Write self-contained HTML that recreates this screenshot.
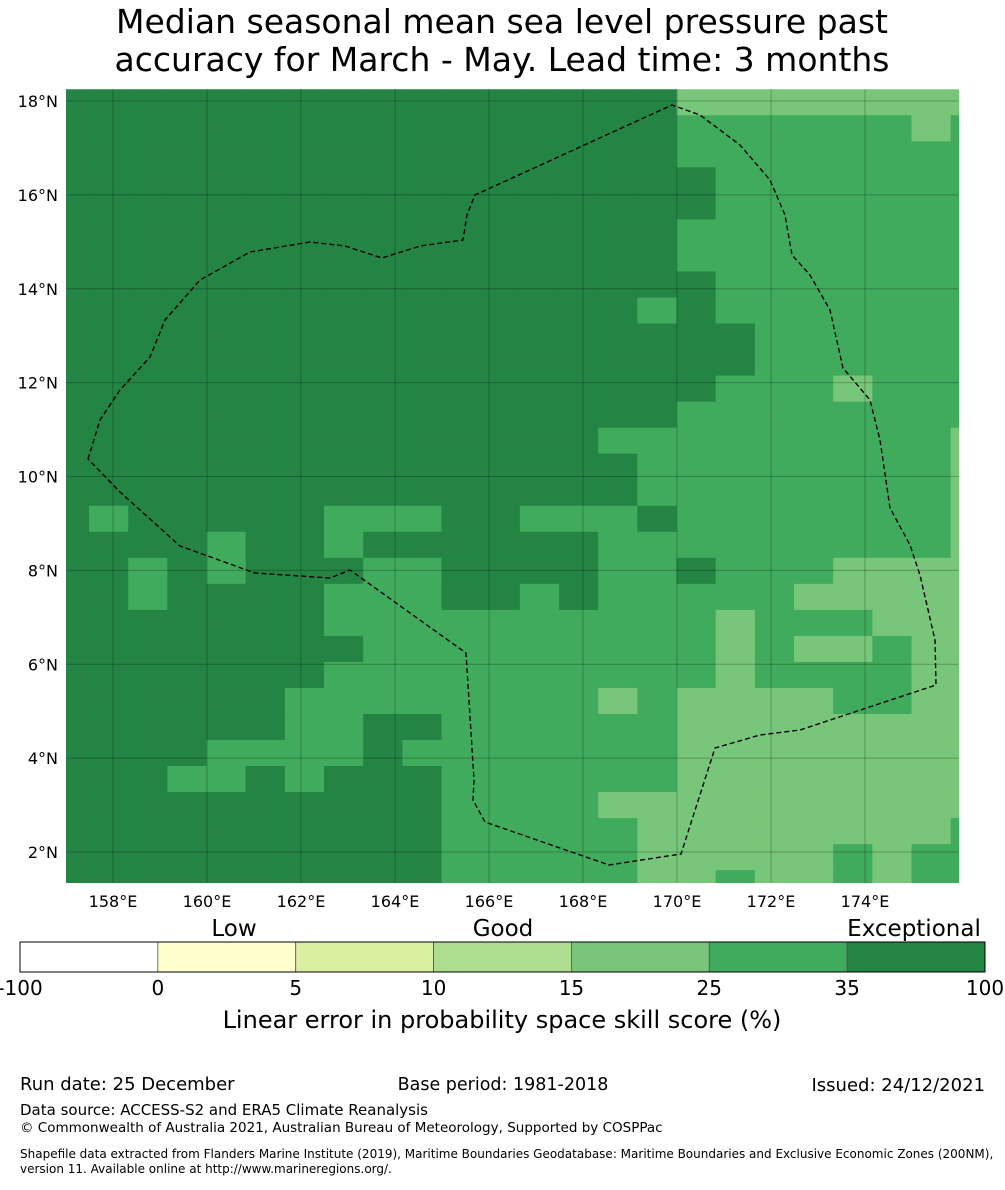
<!DOCTYPE html>
<html><head><meta charset="utf-8"><style>
body{margin:0;background:#fff;width:1005px;height:1185px;overflow:hidden;font-family:"Liberation Sans","DejaVu Sans",sans-serif}
svg text{font-family:"DejaVu Sans","Liberation Sans",sans-serif}
</style></head><body>
<svg id="s" width="1005" height="1185" viewBox="0 0 1005 1185" xmlns="http://www.w3.org/2000/svg">
<text x="502" y="33" font-size="33" text-anchor="middle">Median seasonal mean sea level pressure past</text>
<text x="502" y="71" font-size="33" text-anchor="middle">accuracy for March - May. Lead time: 3 months</text>
<g id="map"></g>
<g id="cb"></g>
<text x="502" y="1028" font-size="24" text-anchor="middle">Linear error in probability space skill score (%)</text>
<text x="20" y="1090" font-size="18">Run date: 25 December</text>
<text x="503" y="1090" font-size="17.5" text-anchor="middle">Base period: 1981-2018</text>
<text x="985" y="1091" font-size="18" text-anchor="end">Issued: 24/12/2021</text>
<text x="20" y="1115" font-size="15">Data source: ACCESS-S2 and ERA5 Climate Reanalysis</text>
<text x="20" y="1132" font-size="13.5">© Commonwealth of Australia 2021, Australian Bureau of Meteorology, Supported by COSPPac</text>
<text x="20" y="1158" font-size="12">Shapefile data extracted from Flanders Marine Institute (2019), Maritime Boundaries Geodatabase: Maritime Boundaries and Exclusive Economic Zones (200NM),</text>
<text x="20" y="1173" font-size="12">version 11. Available online at http://www.marineregions.org/.</text>
</svg>
<script>
const NS='http://www.w3.org/2000/svg';
const gridRows=[
"333333333333333311111111","333333333333333322222212","333333333333333322222222","333333333333333332222222",
"333333333333333332222222","333333333333333322222222","333333333333333322222222","333333333333333332222222",
"333333333333333232222222","333333333333333333222222","333333333333333333222222","333333333333333332221222",
"333333333333333322222222","333333333333332222222221","333333333333333222222221","333333333333333222222221",
"323333322233222322222221","333323323333332222222221","332323332233332232221111","332333322233232222211111",
"333333322222222221222111","333333332222222221211211","333333322222222221222211","333333222222221211112211",
"333333223322222211111111","333322223222222211111111","333223233322222211111111","333333333322221111111111",
"333333333322222111111112","333333333322222111112122","333333333322222112112122"];
const lonTicks=[158,160,162,164,166,168,170,172,174];
const latTicks=[2,4,6,8,10,12,14,16,18];
const cbBounds=["-100","0","5","10","15","25","35","100"];
const cbColors=["#ffffff","#ffffcc","#d9f0a3","#addd8e","#78c679","#41ab5d","#238443"];
const levelColors={"1":"#78c679","2":"#41ab5d","3":"#238443"};
const X0=66,X1=959,Y0=89,Y1=883;
const xs=lon=>113+(lon-158)*47;
const ys=lat=>101+(18-lat)*46.94;
const cellW=5/6, cellH=26.03/46.94, lonStart=157.49-cellW, latStart=18.25;
const map=document.getElementById('map');
function mk(tag,attrs,parent){const e=document.createElementNS(NS,tag);for(const k in attrs)e.setAttribute(k,attrs[k]);parent.appendChild(e);return e;}
gridRows.forEach((row,r)=>{for(let c=0;c<row.length;c++){
  let l1=lonStart+c*cellW,l2=l1+cellW;let x1=Math.max(X0,xs(l1)),x2=Math.min(X1,xs(l2));
  let la1=latStart-r*cellH,la2=la1-cellH;let y1=Math.max(Y0,ys(la1)),y2=Math.min(Y1,ys(la2));
  if(x2<=x1||y2<=y1)continue;
  const e=mk('rect',{x:x1,y:y1,width:Math.min(X1,x2+0.5)-x1,height:Math.min(Y1,y2+0.5)-y1,fill:levelColors[row[c]]},map);
  
  
}});
lonTicks.forEach(v=>{const e=mk('line',{x1:xs(v),x2:xs(v),y1:Y0,y2:Y1,stroke:'rgba(0,0,0,0.25)','stroke-width':1},map);
  
  const t=mk('text',{x:xs(v),y:907,'font-size':16,'text-anchor':'middle'},map);t.textContent=v+'°E';
  });
latTicks.forEach(v=>{const e=mk('line',{x1:X0,x2:X1,y1:ys(v),y2:ys(v),stroke:'rgba(0,0,0,0.25)','stroke-width':1},map);
  
  const t=mk('text',{x:58,y:ys(v)+6,'font-size':16,'text-anchor':'end'},map);t.textContent=v+'°N';
  });
const eez=[[88,459],[100,420],[120,390],[150,357],[165,320],[200,280],[250,252],[310,242],[345,246],[382,258],[420,246],[463,240],[467,215],[475,195],[672,105],[700,115],[740,145],[770,180],[785,215],[792,255],[810,275],[830,310],[843,368],[870,400],[880,440],[890,508],[910,545],[920,575],[935,640],[936,685],[800,730],[760,735],[715,748],[681,854],[609,865],[485,822],[473,800],[474,780],[466,653],[350,570],[330,578],[255,573],[180,546],[120,492],[88,459]];
const pl=mk('polyline',{points:eez.map(p=>p.join(',')).join(' '),fill:'none',stroke:'#000','stroke-width':1.4,'stroke-dasharray':'5,3'},map);

const cb=document.getElementById('cb');const cbX0=20,cbX1=985,cbW=(cbX1-cbX0)/cbColors.length;
cbColors.forEach((col,i)=>{const e=mk('rect',{x:cbX0+i*cbW,y:942,width:cbW,height:30,fill:col,stroke:'#555','stroke-width':0.8},cb);
  });
mk('rect',{x:cbX0,y:942,width:cbX1-cbX0,height:30,fill:'none',stroke:'#000','stroke-width':1},cb);
cbBounds.forEach((b,i)=>{const t=mk('text',{x:cbX0+i*cbW,y:995,'font-size':20,'text-anchor':'middle'},cb);t.textContent=b;
  });
[["Low",234],["Good",503],["Exceptional",914]].forEach(([s,x])=>{const t=mk('text',{x:x,y:936,'font-size':23,'text-anchor':'middle'},cb);t.textContent=s;
  });
</script>
</body></html>
